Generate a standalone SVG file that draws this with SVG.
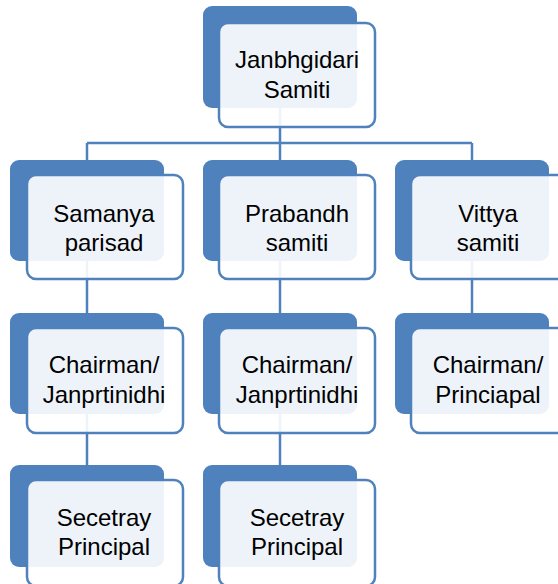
<svg xmlns="http://www.w3.org/2000/svg" width="558" height="584" viewBox="0 0 558 584">
<style>
.back{fill:#4F81BD;}
.front{fill:#FFFFFF;fill-opacity:0.9;stroke:#4F81BD;stroke-width:2.5;}
.lbl{font-family:"Liberation Sans",Arial,sans-serif;font-size:24px;fill:#000000;text-anchor:middle;}
.conn{fill:none;stroke:#4F81BD;stroke-width:2.5;}
</style>
<rect width="558" height="584" fill="#FFFFFF"/>
<g id="connectors">
<path class="conn" d="M280 108 V143 M87 143 H472 M87 143 V160 M280 143 V160 M472 143 V160"/>
<path class="conn" d="M87 260 V313 M280 260 V313 M472 260 V313"/>
<path class="conn" d="M87 413 V465 M280 413 V465"/>
</g>
<g id="n-janbhgidari">
<rect class="back" x="203" y="6" width="154" height="102" rx="9"/>
<rect class="front" x="219" y="23" width="156" height="104" rx="9"/>
<text class="lbl" x="297" y="68">Janbhgidari</text>
<text class="lbl" x="297" y="98">Samiti</text>
</g>
<g id="n-samanya">
<rect class="back" x="10" y="160" width="154" height="101" rx="9"/>
<rect class="front" x="27" y="175" width="156" height="104" rx="9"/>
<text class="lbl" x="104" y="222">Samanya</text>
<text class="lbl" x="104" y="251">parisad</text>
</g>
<g id="n-prabandh">
<rect class="back" x="203" y="160" width="154" height="101" rx="9"/>
<rect class="front" x="219" y="175" width="156" height="104" rx="9"/>
<text class="lbl" x="297" y="222">Prabandh</text>
<text class="lbl" x="297" y="251">samiti</text>
</g>
<g id="n-vittya">
<rect class="back" x="395" y="160" width="154" height="101" rx="9"/>
<rect class="front" x="411" y="175" width="156" height="104" rx="9"/>
<text class="lbl" x="488" y="222">Vittya</text>
<text class="lbl" x="488" y="251">samiti</text>
</g>
<g id="n-chair1">
<rect class="back" x="10" y="313" width="154" height="101" rx="9"/>
<rect class="front" x="27" y="328" width="156" height="105" rx="9"/>
<text class="lbl" x="104" y="373">Chairman/</text>
<text class="lbl" x="104" y="403">Janprtinidhi</text>
</g>
<g id="n-chair2">
<rect class="back" x="203" y="313" width="154" height="101" rx="9"/>
<rect class="front" x="219" y="328" width="156" height="105" rx="9"/>
<text class="lbl" x="297" y="373">Chairman/</text>
<text class="lbl" x="297" y="403">Janprtinidhi</text>
</g>
<g id="n-chair3">
<rect class="back" x="395" y="313" width="154" height="101" rx="9"/>
<rect class="front" x="411" y="328" width="156" height="105" rx="9"/>
<text class="lbl" x="488" y="373">Chairman/</text>
<text class="lbl" x="488" y="403">Princiapal</text>
</g>
<g id="n-sec1">
<rect class="back" x="10" y="465" width="154" height="102" rx="9"/>
<rect class="front" x="27" y="480" width="156" height="106" rx="9"/>
<text class="lbl" x="104" y="526">Secetray</text>
<text class="lbl" x="104" y="555">Principal</text>
</g>
<g id="n-sec2">
<rect class="back" x="203" y="465" width="154" height="102" rx="9"/>
<rect class="front" x="219" y="480" width="156" height="106" rx="9"/>
<text class="lbl" x="297" y="526">Secetray</text>
<text class="lbl" x="297" y="555">Principal</text>
</g>
</svg>
